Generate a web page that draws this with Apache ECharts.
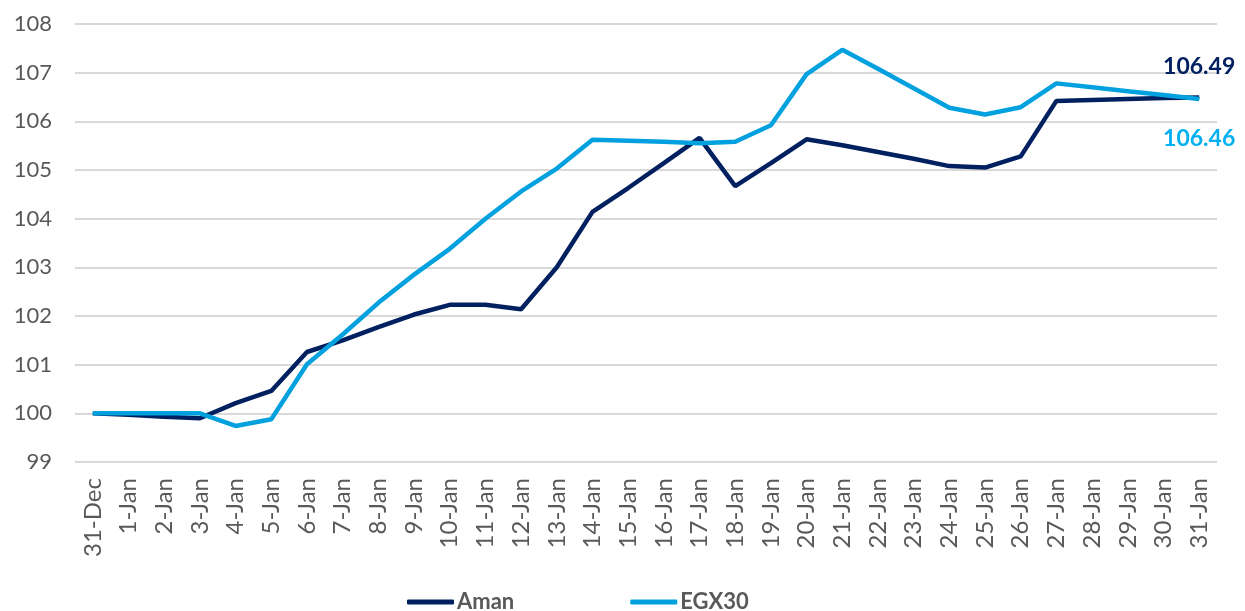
<!DOCTYPE html>
<html>
<head>
<meta charset="utf-8">
<script src="https://cdn.jsdelivr.net/npm/echarts@6/dist/echarts.min.js"></script>
<style>
html,body{margin:0;padding:0;background:#fff;}
#chart{width:1245px;height:611px;}
</style>
</head>
<body>
<div id="chart"></div>
<script>
const categories = ['31-Dec','1-Jan','2-Jan','3-Jan','4-Jan','5-Jan','6-Jan','7-Jan','8-Jan','9-Jan','10-Jan','11-Jan','12-Jan','13-Jan','14-Jan','15-Jan','16-Jan','17-Jan','18-Jan','19-Jan','20-Jan','21-Jan','22-Jan','23-Jan','24-Jan','25-Jan','26-Jan','27-Jan','28-Jan','29-Jan','30-Jan','31-Jan'];
const amanValues = [100,99.97,99.93,99.9,100.21,100.46,101.26,101.5,101.77,102.03,102.23,102.23,102.14,103.0,104.14,104.63,105.14,105.66,104.67,105.14,105.63,105.51,105.37,105.23,105.08,105.05,105.28,106.42,106.44,106.46,106.48,106.49];
const egxValues = [100,100,100,100,99.74,99.88,101.01,101.62,102.27,102.85,103.38,104.0,104.56,105.03,105.62,105.6,105.58,105.55,105.58,105.92,106.97,107.47,107.08,106.68,106.28,106.14,106.29,106.78,106.7,106.62,106.54,106.46];
const seriesNames = ['Aman','EGX30'];

const navy = '#002060';
const sky = '#00A1DE';
const last = categories.length - 1;

const chart = echarts.init(document.getElementById('chart'), null, {renderer:'canvas'});
chart.setOption({
  animation:false,
  backgroundColor:'#ffffff',
  grid:{left:75,right:28,top:24,bottom:149,containLabel:false},
  legend:{
    data:seriesNames.map(n=>({name:n,icon:'roundRect'})),
    left:402, top:586,
    itemWidth:47, itemHeight:5, itemGap:116,
    textStyle:{fontFamily:'Lato',fontWeight:'bold',fontSize:22,color:'#595959',padding:[0,0,0,-2]}
  },
  xAxis:{
    type:'category',
    data:categories,
    boundaryGap:true,
    axisLine:{show:false},
    axisTick:{show:false},
    axisLabel:{rotate:90,interval:0,margin:16,fontFamily:'Lato',fontSize:24,color:'#595959'}
  },
  yAxis:{
    type:'value',
    min:99,max:108,interval:1,
    axisLine:{show:false},
    axisTick:{show:false},
    axisLabel:{margin:23,fontFamily:'Lato',fontSize:22,color:'#595959'},
    splitLine:{lineStyle:{color:'#d9d9d9',width:2}}
  },
  series:[
    {
      name:seriesNames[0],
      type:'line',
      data:amanValues,
      showSymbol:true, symbol:'circle', symbolSize:1,
      itemStyle:{color:navy},
      lineStyle:{color:navy,width:4.5},
      z:3,
      label:{show:true,position:'top',distance:19,fontFamily:'Lato',fontWeight:'bold',fontSize:23,color:navy,
        formatter:p=>p.dataIndex===last?p.value.toFixed(2):''}
    },
    {
      name:seriesNames[1],
      type:'line',
      data:egxValues,
      showSymbol:true, symbol:'circle', symbolSize:1,
      itemStyle:{color:sky},
      lineStyle:{color:sky,width:4.5},
      z:4,
      label:{show:true,position:'bottom',distance:28,fontFamily:'Lato',fontWeight:'bold',fontSize:23,color:'#00B0F0',
        formatter:p=>p.dataIndex===last?p.value.toFixed(2):''}
    }
  ]
});
</script>
</body>
</html>
